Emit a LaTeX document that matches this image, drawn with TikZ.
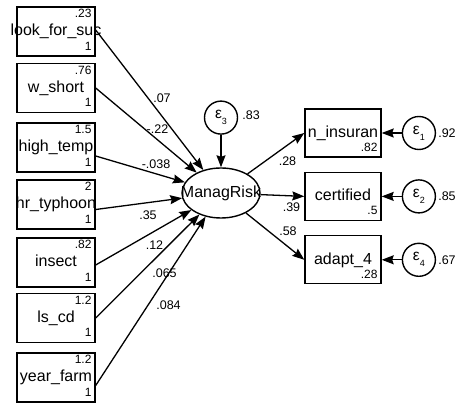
\documentclass[tikz,border=0pt]{standalone}
\usepackage{fontspec}
\setmainfont{Liberation Sans}
\usepackage{tikz}
\usetikzlibrary{arrows.meta,positioning,shapes.geometric}
\newcommand{\vname}[1]{\makebox[0pt]{#1}}
\newcommand{\eps}[1]{ε\raisebox{-6pt}{\fontsize{9}{9}\selectfont #1}}

\begin{document}
\begin{tikzpicture}[x=1pt,y=1pt,node distance=14pt,font=\fontsize{16}{18}\selectfont]
\tikzset{
  obs/.style={draw,line width=1.4pt,minimum width=78pt,minimum height=49pt,inner sep=0pt,text depth=3pt},
  lat/.style={draw,line width=1.4pt,ellipse,minimum width=78pt,minimum height=50pt,inner sep=0pt},
  err/.style={draw,line width=1.4pt,circle,minimum size=33pt,inner sep=0pt,font=\fontsize{15.5}{16}\selectfont},
  val/.style={inner sep=0pt,font=\fontsize{12}{13}\selectfont},
  coef/.style={inner sep=0pt,font=\fontsize{12.5}{13}\selectfont},
  tr/.style={label={[val,anchor=north east,xshift=-4pt,yshift=-3pt]north east:#1}},
  br/.style={label={[val,anchor=south east,xshift=-4pt,yshift=6pt]south east:#1}},
  arr/.style={-{Stealth[length=12pt,width=9pt,inset=1.5pt]},line width=1.3pt}
}
\useasboundingbox (0,0) rectangle (456,-403);
% exogenous variables
\node(look)[obs,tr=.23,br=1] at (56,-31.5) {\vname{look\_for\_suc}};
\node(short)[obs,tr=.76,br=1] at (56,-88) {\vname{w\_short}};
\node(temp)[obs,tr=1.5,br=1] at (56,-147.5) {\vname{high\_temp}};
\node(typh)[obs,tr=2,br=1] at (56,-204.5) {\vname{hr\_typhoon}};
\node(insect)[obs,tr=.82,br=1] at (56,-262.5) {\vname{insect}};
\node(lscd)[obs,tr=1.2,br=1] at (56,-318) {\vname{ls\_cd}};
\node(year)[obs,tr=1.2,br=1] at (56,-377.5) {\vname{year\_farm}};
% latent variable
\node(risk)[lat] at (221,-193) {\vname{ManagRisk}};
\node(e3)[err,above=32.5pt of risk] {\eps{3}};
\node(v3)[coef,right=4pt of e3,yshift=2pt] {.83};
% outcomes
\node(ins)[obs,minimum width=76pt,minimum height=48pt,br=.82] at (343,-133) {\vname{n\_insuran}};
\node(cert)[obs,minimum width=76pt,minimum height=48pt,br=.5,below=of ins] {\vname{certified}};
\node(adapt)[obs,minimum width=76pt,minimum height=48pt,br=.28,below=of cert] {\vname{adapt\_4}};
\node(e1)[err,right=20pt of ins] {\eps{1}};
\node(e2)[err,right=20pt of cert] {\eps{2}};
\node(e4)[err,right=20pt of adapt] {\eps{4}};
\node(v1)[coef,right=2pt of e1] {.92};
\node(v2)[coef,right=2pt of e2] {.85};
\node(v4)[coef,right=2pt of e4] {.67};
% paths
\draw[arr]([yshift=1.5pt]look.east)--(risk);
\draw[arr](short.east)--(risk);
\draw[arr]([yshift=-8.5pt]temp.east)--(risk);
\draw[arr]([yshift=-5pt]typh.east)--(risk);
\draw[arr]([yshift=-2.5pt]insect.east)--(risk);
\draw[arr](lscd.east)--(risk);
\draw[arr]([yshift=-8pt]year.east)--(risk);
\draw[arr](e3)--(risk);
\draw[arr](risk)--(ins.west); \draw[arr](risk)--(cert.west); \draw[arr](risk)--(adapt.west);
\draw[arr](e1)--(ins); \draw[arr](e2)--(cert); \draw[arr](e4)--(adapt);
% coefficients
\node(c1)[coef] at (162,-98) {.07};
\node(c2)[coef] at (157.5,-129) {-.22};
\node(c3)[coef] at (156,-164) {-.038};
\node(c4)[coef] at (148,-215) {.35};
\node(c5)[coef] at (154.5,-245) {.12};
\node(c6)[coef] at (164.5,-273) {.065};
\node(c7)[coef] at (168.5,-305) {.084};
\node(c8)[coef] at (287.5,-161) {.28};
\node(c9)[coef] at (291.5,-207) {.39};
\node(c10)[coef] at (288,-231) {.58};
\end{tikzpicture}
\end{document}
